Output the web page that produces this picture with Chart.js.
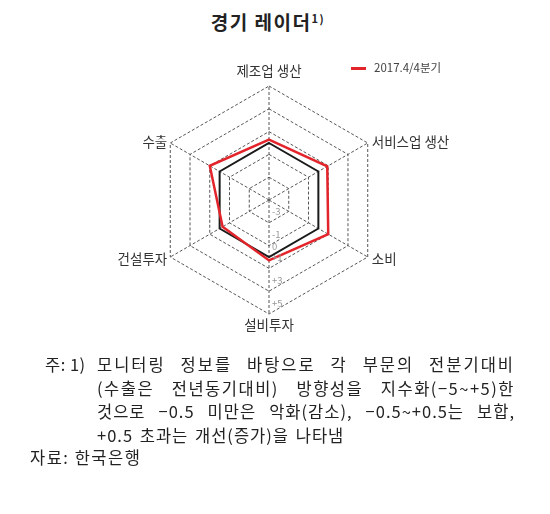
<!DOCTYPE html>
<html>
<head>
  <meta charset="utf-8">
  <title>경기 레이더</title>
  <script src="https://cdn.jsdelivr.net/npm/chart.js"></script>
  <style>
    body {
      margin: 0;
      width: 550px;
      height: 514px;
      background: #fff;
      font-family: "Noto Sans CJK KR", sans-serif;
      color: #222;
      position: relative;
      overflow: hidden;
    }
    h2 {
      position: absolute;
      top: 8px;
      left: 0;
      width: 536px;
      margin: 0;
      text-align: center;
      font-size: 19px;
      font-weight: bold;
      letter-spacing: 1.5px;
      color: #222;
    }
    h2 sup {
      font-size: 11px;
    }
    #wrap {
      position: absolute;
      left: 0;
      top: 45px;
      width: 538px;
      height: 310px;
    }
    #legend {
      position: absolute;
      left: 351px;
      top: 59px;
      font-size: 11.5px;
      color: #444;
      white-space: nowrap;
    }
    #legend i {
      display: inline-block;
      width: 15px;
      height: 3px;
      background: #e3242b;
      vertical-align: middle;
      margin-right: 8px;
    }
    .notes {
      position: absolute;
      left: 0;
      top: 353px;
      font-size: 16.5px;
      line-height: 23.5px;
    }
    .notes .row {
      position: relative;
      padding-left: 97px;
      width: 418px;
    }
    .notes .j {
      text-align: justify;
      text-align-last: justify;
    }
    .notes .l1 { letter-spacing: 2px; }
    .notes .l2 { letter-spacing: 1.5px; }
    .notes .l3 { letter-spacing: 1px; }
    .notes .l4 { letter-spacing: 1px; word-spacing: 2px; }
    .notes .lead {
      position: absolute;
      left: 45px;
      letter-spacing: 0.5px;
      word-spacing: 0;
    }
    .src {
      margin-left: 30px;
      line-height: 20px;
      letter-spacing: 1.5px;
    }
  </style>
</head>
<body>
  <h2>경기 레이더<sup>1)</sup></h2>
  <div id="wrap"><canvas id="radar"></canvas></div>
  <div id="legend"><i></i><span id="legendText"></span></div>
  <div class="notes">
    <div class="row j l1"><span class="lead">주: 1)</span>모니터링 정보를 바탕으로 각 부문의 전분기대비</div>
    <div class="row j l2">(수출은 전년동기대비) 방향성을 지수화(−5~+5)한</div>
    <div class="row j l3">것으로 −0.5 미만은 악화(감소), −0.5~+0.5는 보합,</div>
    <div class="row l4">+0.5 초과는 개선(증가)을 나타냄</div>
    <div class="src">자료: 한국은행</div>
  </div>

  <script>
    const categories = ['제조업 생산', '서비스업 생산', '소비', '설비투자', '건설투자', '수출'];
    const seriesName = '2017.4/4분기';
    const q4Values = [0.3, 0.9, 1.0, 0.3, -0.3, 1.0];
    const baseValues = [0, 0, 0, 0, 0, 0];
    const tickLabels = ['-3', '-1', '0', '+1', '+3', '+5'];
    const tickValues = [-3, -1, 0, 1, 3, 5];

    document.getElementById('legendText').textContent = seriesName;

    // tick labels sit on the downward axis, just above each ring
    const bottomTicks = {
      id: 'bottomTicks',
      afterDraw(chart) {
        const r = chart.scales.r;
        const c = chart.ctx;
        c.save();
        c.font = '9.5px "Noto Sans CJK KR"';
        c.fillStyle = '#999';
        c.textAlign = 'left';
        c.textBaseline = 'middle';
        tickValues.forEach((v, i) => {
          const d = r.getDistanceFromCenterForValue(v);
          c.fillText(tickLabels[i], r.xCenter + 3, r.yCenter + d - 11);
        });
        c.restore();
      }
    };

    // category names beside each outer vertex (side ones centred on the vertex)
    const sideLabels = {
      id: 'sideLabels',
      afterDraw(chart) {
        const r = chart.scales.r;
        const c = chart.ctx;
        c.save();
        c.font = '13.5px "Noto Sans CJK KR"';
        c.fillStyle = '#333';
        chart.data.labels.forEach((txt, i) => {
          const p = r.getPointPosition(i, r.drawingArea);
          const dx = p.x - r.xCenter;
          if (Math.abs(dx) < 1) {
            c.textAlign = 'center';
            if (p.y < r.yCenter) {
              c.textBaseline = 'bottom';
              c.fillText(txt, p.x, p.y - 8);
            } else {
              c.textBaseline = 'top';
              c.fillText(txt, p.x, p.y + 4);
            }
          } else {
            c.textAlign = dx > 0 ? 'left' : 'right';
            c.textBaseline = 'middle';
            c.fillText(txt, p.x + (dx > 0 ? 4 : -3), p.y + (p.y < r.yCenter ? -1 : 2));
          }
        });
        c.restore();
      }
    };

    new Chart(document.getElementById('radar'), {
      type: 'radar',
      data: {
        labels: categories,
        datasets: [{
          label: seriesName,
          data: q4Values,
          borderColor: '#e3242b',
          borderWidth: 2.5,
          pointRadius: 0,
          fill: false
        }, {
          label: 'base',
          data: baseValues,
          borderColor: '#1a1a1a',
          borderWidth: 2,
          pointRadius: 0,
          fill: false
        }]
      },
      options: {
        responsive: true,
        maintainAspectRatio: false,
        animation: false,
        layout: { padding: { top: 41, bottom: 41 } },
        plugins: {
          legend: { display: false },
          tooltip: { enabled: false }
        },
        scales: {
          r: {
            min: -5,
            max: 5,
            ticks: { stepSize: 1, display: false },
            grid: {
              color: ctx => (ctx.tick.value % 2 !== 0 ? '#555' : 'transparent'),
              lineWidth: 1,
              borderDash: [3, 2]
            },
            border: { dash: [3, 2] },
            angleLines: { color: '#555', lineWidth: 1, borderDash: [3, 2] },
            pointLabels: { display: false }
          }
        }
      },
      plugins: [bottomTicks, sideLabels]
    });
  </script>
</body>
</html>
